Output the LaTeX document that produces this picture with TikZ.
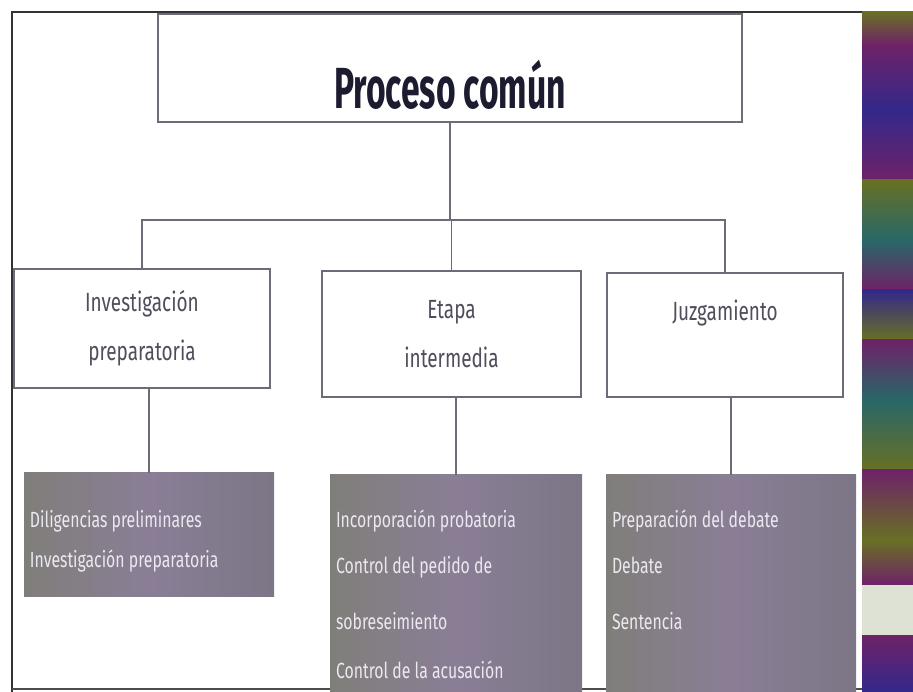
\documentclass[tikz,border=0pt]{standalone}
\usepackage{fontspec}
\setmainfont{Fira Sans}
\newfontfamily\agency[FakeStretch=0.72]{Fira Sans}
\newfontfamily\agencytitle[FakeStretch=0.58]{Fira Sans}
\newcommand{\pxu}{0.02cm}
\definecolor{linegray}{RGB}{108,108,120}
\definecolor{titleink}{RGB}{28,28,48}
\definecolor{stageink}{RGB}{78,78,92}
\definecolor{itemink}{RGB}{236,232,240}
\definecolor{itemleft}{RGB}{128,126,122}
\definecolor{itemmid}{RGB}{138,126,150}
\definecolor{itemright}{RGB}{124,118,134}
\definecolor{stripolive}{RGB}{104,112,36}
\definecolor{strippurple}{RGB}{110,34,104}
\definecolor{stripblue}{RGB}{52,40,138}
\definecolor{stripteal}{RGB}{40,104,104}
\definecolor{strippale}{RGB}{222,226,212}

\begin{document}
\begin{tikzpicture}[
  x=\pxu, y=-\pxu,
  topbox/.style={rectangle, draw=linegray, line width=0.8pt, fill=white, inner sep=0pt, text height=46pt, text depth=0pt, text=titleink, font=\agencytitle\bfseries\fontsize{33}{36}\selectfont},
  stagebox/.style={rectangle, draw=linegray, line width=0.7pt, fill=white, align=center, inner sep=0pt, text=stageink, font=\agency\fontsize{15}{28}\selectfont},
  itembox/.style={rectangle, inner sep=0pt, left color=itemleft, right color=itemright, middle color=itemmid},
  items/.style={anchor=north west, align=left, inner sep=0pt, text=itemink, font=\agency\fontsize{12.5}{26}\selectfont},
  link/.style={draw=linegray, line width=1pt}
]
\useasboundingbox (0,0) rectangle (913,692);

% colour strip on the right
\foreach \ya/\yb/\ca/\cb in {12/45/stripolive/strippurple, 45/110/strippurple/stripblue, 110/180/stripblue/strippurple,
  180/240/stripolive/stripteal, 240/290/stripteal/strippurple, 290/340/stripblue/stripolive, 340/400/strippurple/stripteal,
  400/470/stripteal/stripolive, 470/540/strippurple/stripolive, 540/585/stripolive/strippurple,
  585/635/strippale/strippale, 635/692/strippurple/stripblue}
  \shade[top color=\ca, bottom color=\cb] (862,\ya) rectangle (913,\yb);

% slide frame
\draw[line width=1.4pt, black!80] (862,12) -- (12,12) -- (12,692);
\draw[line width=0.8pt, black!70] (12,689) -- (862,689);

\node[topbox, minimum width=584*\pxu, minimum height=108*\pxu] (title) at (450,68) {Proceso común};

\node[stagebox, minimum width=256*\pxu, minimum height=119*\pxu] (inv) at (142,328.5) {Investigación\\preparatoria};
\node[stagebox, minimum width=259*\pxu, minimum height=126*\pxu] (eta) at (451.5,334) {Etapa\\intermedia};
\node[stagebox, minimum width=236*\pxu, minimum height=124*\pxu] (juz) at (725,335) {Juzgamiento\\\mbox{}};

\node[itembox, minimum width=250*\pxu, minimum height=123*\pxu] (dil) at (149,534.5) {};
\node[itembox, minimum width=252*\pxu, minimum height=217*\pxu] (inc) at (456,583.5) {};
\node[itembox, minimum width=250*\pxu, minimum height=217*\pxu] (pre) at (731,583.5) {};

\node[items] (dilitems) at ([shift={(6,37)}]dil.north west) {Diligencias preliminares\\[-3pt]Investigación preparatoria};
\node[items] (incitems) at ([shift={(6,35)}]inc.north west) {Incorporación probatoria\\Control del pedido de\\[6pt]sobreseimiento\\[2pt]Control de la acusación};
\node[items] (preitems) at ([shift={(6,35)}]pre.north west) {Preparación del debate\\Debate\\[6pt]Sentencia};

\coordinate (bar) at (441,220);
\draw[link] (title.south) -- (title.south |- bar);
\draw[link] (inv.north) |- (bar) -| (juz.north);
\draw[link] (eta.north) -- (eta.north |- bar);

\draw[link] (dil.north) -- (dil.north |- inv.south);
\draw[link] (inc.north) -- (inc.north |- eta.south);
\draw[link] (pre.north) -- (pre.north |- juz.south);
\end{tikzpicture}
\end{document}
